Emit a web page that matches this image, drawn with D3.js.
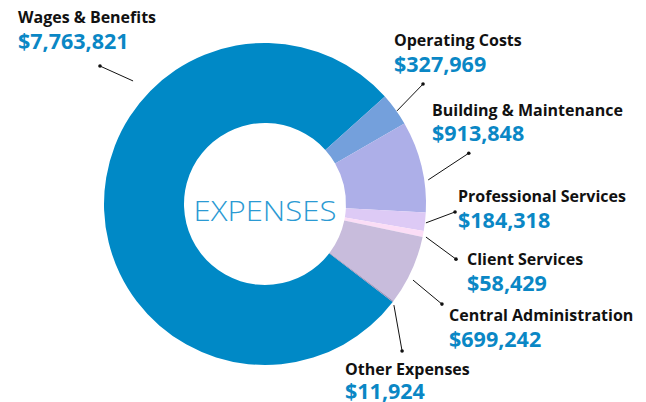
<!DOCTYPE html>
<html><head><meta charset="utf-8">
<script src="https://cdn.jsdelivr.net/npm/d3@7"></script>
<style>
html,body{margin:0;padding:0;background:#fff;}
svg{display:block;}
</style></head>
<body>
<svg id="chart" width="646" height="402"></svg>
<script>
// ---- data ----
const categories = ["Wages & Benefits","Operating Costs","Building & Maintenance","Professional Services","Client Services","Central Administration","Other Expenses"];
const values = [7763821, 327969, 913848, 184318, 58429, 699242, 11924];
const valueLabels = ["$7,763,821","$327,969","$913,848","$184,318","$58,429","$699,242","$11,924"];
const colors = ["#0089C6","#74A0DC","#ADAFE8","#DDCAF5","#FBDDF6","#C8BCDC","#9C90B8"];
const centerTitle = "EXPENSES";

// ---- layout ----
const W = 646, H = 402;
const cx = 265, cy = 204, rOuter = 161, rInner = 81;
const startDeg = 127.5;
// label anchors [x, baselineName, baselineValue]
const labelPos = [[18,23,49],[394,46,72],[432,116,141],[458,202,228],[467,265,291],[449,321,347],[345,375,399]];
// leader lines in polar [angle1, r1, angle2, r2] (deg clockwise from top)
const leaders = [[313.0,180.4,309.9,215.1],[54.8,161.5,52.8,198.4],[81.6,165,76.0,210],[96.7,162,92.4,190.2],[101.6,164.3,106.1,198.8],[117.2,166.4,119.5,203.3],[128.1,163.8,137.0,201]];

const svg = d3.select("#chart");
const g = svg.append("g").attr("transform", `translate(${cx},${cy})`);

const rad = d => d * Math.PI / 180;
const pie = d3.pie().sort(null).value(d => d)
  .startAngle(rad(startDeg)).endAngle(rad(startDeg + 360));
const arc = d3.arc().innerRadius(rInner).outerRadius(rOuter);

g.selectAll("path.slice").data(pie(values)).join("path")
  .attr("class","slice")
  .attr("d", arc)
  .attr("fill", (d,i) => colors[i]);

g.append("text")
  .attr("x", 0).attr("y", 17)
  .attr("text-anchor","middle")
  .attr("font-family","'Open Sans', sans-serif")
  .attr("font-weight", 300)
  .attr("font-size", 28)
  .attr("textLength", 143)
  .attr("lengthAdjust","spacingAndGlyphs")
  .attr("fill","#2B9AD3")
  .text(centerTitle);

const pt = (a, r) => [r * Math.sin(rad(a)), -r * Math.cos(rad(a))];

leaders.forEach(l => {
  const p1 = pt(l[0], l[1]), p2 = pt(l[2], l[3]);
  g.append("line").attr("x1",p1[0]).attr("y1",p1[1]).attr("x2",p2[0]).attr("y2",p2[1])
    .attr("stroke","#111").attr("stroke-width",1);
  g.append("circle").attr("cx",p2[0]).attr("cy",p2[1]).attr("r",1.8).attr("fill","#111");
});

const labels = svg.append("g");
categories.forEach((c,i) => {
  const p = labelPos[i];
  labels.append("text").attr("x",p[0]).attr("y",p[1])
    .attr("font-family","'Open Sans', sans-serif").attr("font-weight",700)
    .attr("font-size",16).attr("fill","#111").text(c);
  labels.append("text").attr("x",p[0]).attr("y",p[2])
    .attr("font-family","'Open Sans', sans-serif").attr("font-weight",700)
    .attr("font-size",21.5).attr("fill","#0A87C5").text(valueLabels[i]);
});
</script>
</body></html>
